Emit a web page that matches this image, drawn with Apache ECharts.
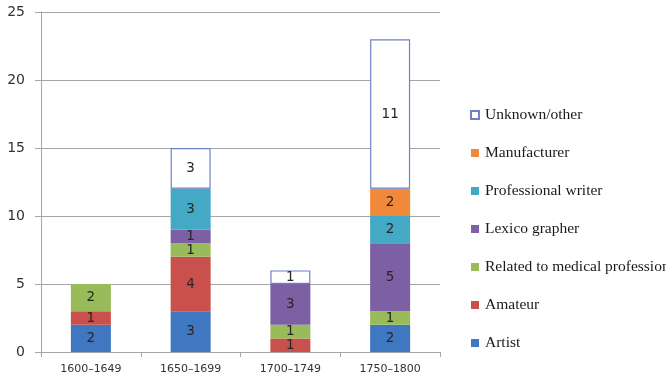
<!DOCTYPE html>
<html>
<head>
<meta charset="utf-8">
<script src="https://cdn.jsdelivr.net/npm/echarts@6/dist/echarts.min.js"></script>
<style>
  html, body { margin: 0; padding: 0; background: #fff; }
  #chart { width: 666px; height: 380px; }
</style>
</head>
<body>
<div id="chart"></div>
<script>
// Periods on the x axis
const periods = ['1600\u20131649', '1650\u20131699', '1700\u20131749', '1750\u20131800'];

// Counts per occupation group (null = none in that period)
const artist       = [2, 3, null, 2];
const amateur      = [1, 4, 1, null];
const medical      = [2, 1, 1, 1];
const lexicographer = [null, 1, 3, 5];
const profWriter   = [null, 3, null, 2];
const manufacturer = [null, null, null, 2];
const unknownOther = [null, 3, 1, 11];

// Y axis range
const yMin = 0, yMax = 25, yStep = 5;

const chart = echarts.init(document.getElementById('chart'));

function bar(name, data, color, extra) {
  return Object.assign({
    name: name,
    type: 'bar',
    stack: 'total',
    data: data,
    barWidth: 40,
    itemStyle: { color: color },
    label: {
      show: true,
      position: 'inside',
      color: '#262626',
      fontFamily: 'DejaVu Sans',
      fontSize: 13.5,
      formatter: p => (p.value == null ? '' : String(p.value))
    },
    emphasis: { disabled: true }
  }, extra || {});
}

chart.setOption({
  animation: false,
  backgroundColor: '#ffffff',
  grid: { left: 41, right: 226, top: 12, bottom: 28, containLabel: false },
  xAxis: {
    type: 'category',
    data: periods,
    axisLine: { show: true, lineStyle: { color: '#a6a6a6', width: 1 } },
    axisTick: { show: true, alignWithLabel: false, length: 5, lineStyle: { color: '#a6a6a6' } },
    axisLabel: { color: '#333', fontFamily: 'DejaVu Sans', fontSize: 11, margin: 12 },
    splitLine: { show: false }
  },
  yAxis: {
    type: 'value',
    min: yMin, max: yMax, interval: yStep,
    axisLine: { show: true, lineStyle: { color: '#a6a6a6', width: 1 } },
    axisTick: { show: true, length: 6, lineStyle: { color: '#a6a6a6' } },
    axisLabel: { color: '#333', fontFamily: 'DejaVu Sans', fontSize: 14, margin: 16 },
    splitLine: { show: true, lineStyle: { color: '#a6a6a6', width: 1 } }
  },
  legend: {
    orient: 'vertical',
    left: 465,
    top: 102,
    itemWidth: 8,
    itemHeight: 8,
    itemGap: 22,
    icon: 'rect',
    textStyle: { fontFamily: 'Liberation Serif', fontSize: 15.5, lineHeight: 16, color: '#1a1a1a', padding: [0, 0, 0, 1] },
    data: ['Unknown/other', 'Manufacturer', 'Professional writer', 'Lexico grapher',
           'Related to medical profession', 'Amateur', 'Artist']
  },
  series: [
    bar('Artist', artist, '#3f78c1'),
    bar('Amateur', amateur, '#c9504c'),
    bar('Related to medical profession', medical, '#9abb59'),
    bar('Lexico grapher', lexicographer, '#7d5fa3'),
    bar('Professional writer', profWriter, '#43a9c5'),
    bar('Manufacturer', manufacturer, '#f08a3a'),
    bar('Unknown/other', unknownOther, '#ffffff', {
      itemStyle: { color: '#ffffff', borderColor: '#6f80c8', borderWidth: 1.2 }
    })
  ]
});
</script>
</body>
</html>
